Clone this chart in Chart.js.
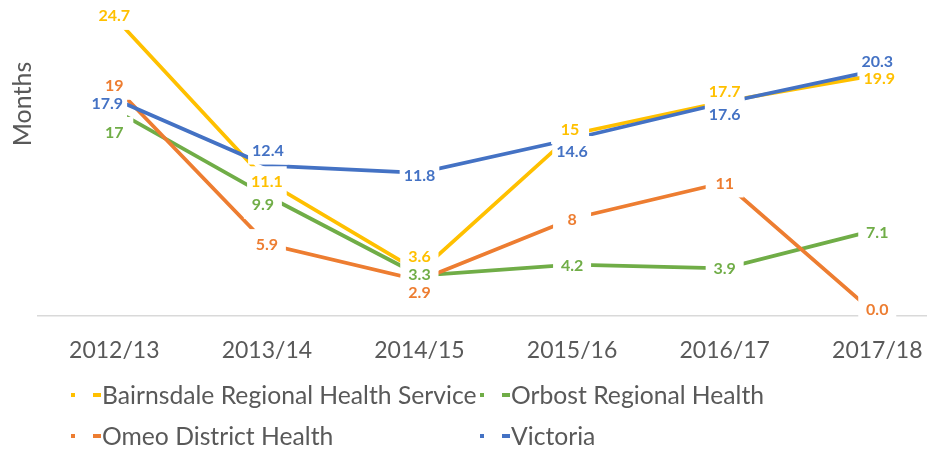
<!DOCTYPE html>
<html>
<head>
<meta charset="utf-8">
<script src="https://cdn.jsdelivr.net/npm/chart.js@4.4.1/dist/chart.umd.min.js"></script>
<style>
  html, body { margin: 0; padding: 0; background: #fff; overflow: hidden; }
  #wrap { width: 927px; height: 451px; position: relative; }
</style>
</head>
<body>
<div id="wrap"><canvas id="monthsChart" width="927" height="451"></canvas></div>
<script>
// financial years on the category axis
const years = ['2012/13', '2013/14', '2014/15', '2015/16', '2016/17', '2017/18'];

// series values (months)
const bairnsdale = [24.7, 11.1, 3.6, 15, 17.7, 19.9];
const orbost = [17, 9.9, 3.3, 4.2, 3.9, 7.1];
const omeo = [19, 5.9, 2.9, 8, 11, 0.0];
const victoria = [17.9, 12.4, 11.8, 14.6, 17.6, 20.3];

const seriesNames = ['Bairnsdale Regional Health Service', 'Orbost Regional Health', 'Omeo District Health', 'Victoria'];
const seriesValues = [bairnsdale, orbost, omeo, victoria];
const seriesColors = ['#FFC000', '#70AD47', '#ED7D31', '#4472C4'];

// little nudges for the data labels so they don't sit on top of each other (px)
const labelNudge = [
    [[0, -2], [0, 0], [0, -16], [-2, -5], [0, -11], [2, 3]],
    [[0, 22], [-4, 8], [0, -2], [0, 0], [0, 0], [0, 2]],
    [[0, -1], [0, 0], [0, 11], [0, 0], [0, 0], [0, -7]],
    [[-7, 4], [1, -16], [0, 2], [0, 12], [0, 11], [0, -9]]
];

const TEXT_GREY = '#595959';

function toPoints(values) {
    return values.map((v, i) => ({ x: i, y: v }));
}

// white boxes first (they hide the lines), then all the texts on top
const labelPlugin = {
    id: 'boxedLabels',
    afterDatasetsDraw(chart) {
        const ctx = chart.ctx;
        const items = [];
        ctx.save();
        ctx.font = 'bold 16px Lato';
        chart.data.datasets.forEach((ds, di) => {
            const meta = chart.getDatasetMeta(di);
            meta.data.forEach((pt, i) => {
                const v = seriesValues[di][i];
                const txt = (v === 0) ? v.toFixed(1) : String(v);
                const nudge = labelNudge[di][i];
                items.push({
                    txt: txt,
                    x: pt.x + nudge[0],
                    y: pt.y + nudge[1],
                    w: Math.max(ctx.measureText(txt).width + 8, 38),
                    color: ds.borderColor
                });
            });
        });
        const h = 30;
        ctx.fillStyle = '#fff';
        items.forEach(it => ctx.fillRect(it.x - it.w / 2, it.y - h / 2, it.w, h));
        ctx.textAlign = 'center';
        ctx.textBaseline = 'middle';
        items.forEach(it => {
            ctx.fillStyle = it.color;
            ctx.fillText(it.txt, it.x, it.y + 1);
        });
        ctx.restore();
    }
};

const legendPlugin = {
    id: 'twoColLegend',
    afterDraw(chart) {
        const ctx = chart.ctx;
        const cols = [71, 480];
        const rows = [395, 436];
        ctx.save();
        ctx.font = '24.7px Lato';
        ctx.textBaseline = 'middle';
        ctx.textAlign = 'left';
        seriesNames.forEach((name, i) => {
            const x = cols[i % 2];
            const y = rows[Math.floor(i / 2)];
            ctx.fillStyle = seriesColors[i];
            ctx.fillRect(x, y - 2, 4, 4);
            ctx.fillRect(x + 22, y - 2, 8, 4);
            ctx.fillStyle = TEXT_GREY;
            ctx.fillText(name, x + 31, y + 1);
        });
        ctx.restore();
    }
};

const yTitlePlugin = {
    id: 'yTitle',
    afterDraw(chart) {
        const ctx = chart.ctx;
        ctx.save();
        ctx.translate(23, 104);
        ctx.rotate(-Math.PI / 2);
        ctx.font = '25px Lato';
        ctx.fillStyle = TEXT_GREY;
        ctx.textAlign = 'center';
        ctx.textBaseline = 'middle';
        ctx.fillText('Months', 0, 0);
        ctx.restore();
    }
};

new Chart('monthsChart', {
    type: 'line',
    data: {
        datasets: seriesNames.map((name, i) => ({
            label: name,
            data: toPoints(seriesValues[i]),
            borderColor: seriesColors[i],
            backgroundColor: seriesColors[i],
            borderWidth: 3.75,
            pointRadius: 0,
            tension: 0,
            borderCapStyle: 'round',
            order: seriesNames.length - i
        }))
    },
    options: {
        responsive: false,
        animation: false,
        layout: {
            padding: { left: 38, right: 0, top: 0, bottom: 66 }
        },
        scales: {
            x: {
                type: 'linear',
                min: -0.5,
                max: 5.326,
                grid: { display: false, drawTicks: false },
                border: { display: true, color: '#D9D9D9', width: 1.5 },
                afterBuildTicks(axis) {
                    axis.ticks = years.map((y, i) => ({ value: i }));
                },
                afterFit(axis) {
                    // the plot area runs to the right edge, like the original
                    axis.paddingLeft = 0;
                    axis.paddingRight = 0;
                },
                ticks: {
                    autoSkip: false,
                    maxRotation: 0,
                    padding: 21,
                    color: TEXT_GREY,
                    font: { family: 'Lato', size: 23 },
                    callback: (value) => years[value]
                }
            },
            y: {
                display: false,
                min: 0,
                max: 26.1
            }
        },
        plugins: {
            legend: { display: false },
            tooltip: { enabled: false }
        }
    },
    plugins: [labelPlugin, legendPlugin, yTitlePlugin]
});
</script>
</body>
</html>
